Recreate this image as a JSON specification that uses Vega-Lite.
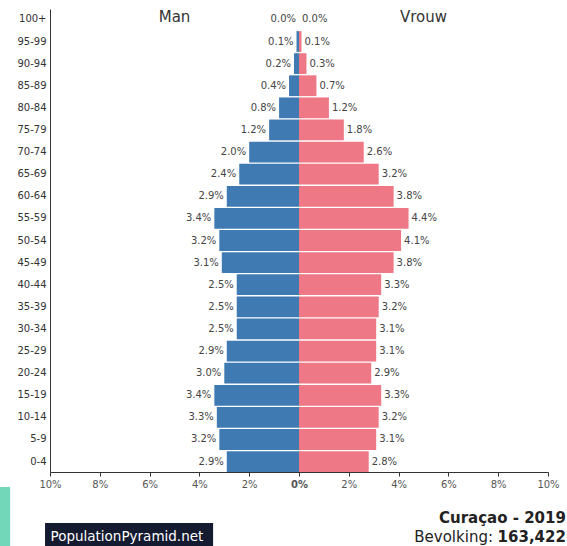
{
  "$schema": "https://vega.github.io/schema/vega-lite/v6.json",
  "width": 567,
  "height": 546,
  "autosize": {"type": "none"},
  "padding": 0,
  "background": "white",
  "config": {"font": "DejaVu Sans", "view": {"stroke": null}},
  "data": {
    "values": [
      {"age": "100+", "sex": "Man", "pct": 0.0}, {"age": "100+", "sex": "Vrouw", "pct": 0.0},
      {"age": "95-99", "sex": "Man", "pct": 0.1}, {"age": "95-99", "sex": "Vrouw", "pct": 0.1},
      {"age": "90-94", "sex": "Man", "pct": 0.2}, {"age": "90-94", "sex": "Vrouw", "pct": 0.3},
      {"age": "85-89", "sex": "Man", "pct": 0.4}, {"age": "85-89", "sex": "Vrouw", "pct": 0.7},
      {"age": "80-84", "sex": "Man", "pct": 0.8}, {"age": "80-84", "sex": "Vrouw", "pct": 1.2},
      {"age": "75-79", "sex": "Man", "pct": 1.2}, {"age": "75-79", "sex": "Vrouw", "pct": 1.8},
      {"age": "70-74", "sex": "Man", "pct": 2.0}, {"age": "70-74", "sex": "Vrouw", "pct": 2.6},
      {"age": "65-69", "sex": "Man", "pct": 2.4}, {"age": "65-69", "sex": "Vrouw", "pct": 3.2},
      {"age": "60-64", "sex": "Man", "pct": 2.9}, {"age": "60-64", "sex": "Vrouw", "pct": 3.8},
      {"age": "55-59", "sex": "Man", "pct": 3.4}, {"age": "55-59", "sex": "Vrouw", "pct": 4.4},
      {"age": "50-54", "sex": "Man", "pct": 3.2}, {"age": "50-54", "sex": "Vrouw", "pct": 4.1},
      {"age": "45-49", "sex": "Man", "pct": 3.1}, {"age": "45-49", "sex": "Vrouw", "pct": 3.8},
      {"age": "40-44", "sex": "Man", "pct": 2.5}, {"age": "40-44", "sex": "Vrouw", "pct": 3.3},
      {"age": "35-39", "sex": "Man", "pct": 2.5}, {"age": "35-39", "sex": "Vrouw", "pct": 3.2},
      {"age": "30-34", "sex": "Man", "pct": 2.5}, {"age": "30-34", "sex": "Vrouw", "pct": 3.1},
      {"age": "25-29", "sex": "Man", "pct": 2.9}, {"age": "25-29", "sex": "Vrouw", "pct": 3.1},
      {"age": "20-24", "sex": "Man", "pct": 3.0}, {"age": "20-24", "sex": "Vrouw", "pct": 2.9},
      {"age": "15-19", "sex": "Man", "pct": 3.4}, {"age": "15-19", "sex": "Vrouw", "pct": 3.3},
      {"age": "10-14", "sex": "Man", "pct": 3.3}, {"age": "10-14", "sex": "Vrouw", "pct": 3.2},
      {"age": "5-9", "sex": "Man", "pct": 3.2}, {"age": "5-9", "sex": "Vrouw", "pct": 3.1},
      {"age": "0-4", "sex": "Man", "pct": 2.9}, {"age": "0-4", "sex": "Vrouw", "pct": 2.8}
    ]
  },
  "layer": [
    {
      "encoding": {
        "y": {
          "field": "age",
          "type": "nominal",
          "sort": ["100+", "95-99", "90-94", "85-89", "80-84", "75-79", "70-74", "65-69", "60-64", "55-59", "50-54", "45-49", "40-44", "35-39", "30-34", "25-29", "20-24", "15-19", "10-14", "5-9", "0-4"],
          "scale": {
            "domain": ["100+", "95-99", "90-94", "85-89", "80-84", "75-79", "70-74", "65-69", "60-64", "55-59", "50-54", "45-49", "40-44", "35-39", "30-34", "25-29", "20-24", "15-19", "10-14", "5-9", "0-4"],
            "range": [9, 472],
            "paddingInner": 0.06,
            "paddingOuter": 0
          },
          "axis": {
            "title": null,
            "offset": -50,
            "ticks": false,
            "domainColor": "#333333",
            "labelFontSize": 10,
            "labelColor": "#333333",
            "labelPadding": 4
          }
        }
      },
      "layer": [
        {
          "transform": [
            {"calculate": "datum.sex === 'Man' ? -datum.pct : datum.pct", "as": "signed"}
          ],
          "mark": {"type": "bar"},
          "encoding": {
            "x": {
              "field": "signed",
              "type": "quantitative",
              "scale": {"domain": [-10, 10], "range": [50, 548], "nice": false},
              "axis": {
                "title": null,
                "offset": -74,
                "values": [-10, -8, -6, -4, -2, 0, 2, 4, 6, 8, 10],
                "labelExpr": "abs(datum.value) + '%'",
                "labelFlush": false,
                "labelFontSize": 10,
                "labelColor": "#555555",
                "labelFontWeight": {"condition": {"test": "datum.value === 0", "value": "bold"}, "value": "normal"},
                "domainColor": "#333333",
                "tickColor": "#333333",
                "tickSize": 4,
                "labelPadding": 3,
                "grid": false
              }
            },
            "color": {
              "field": "sex",
              "type": "nominal",
              "scale": {"domain": ["Man", "Vrouw"], "range": ["#3f7ab3", "#ee7886"]},
              "legend": null
            }
          }
        },
        {
          "transform": [
            {"filter": "datum.sex === 'Man'"},
            {"calculate": "-datum.pct", "as": "signed"},
            {"calculate": "format(datum.pct, '.1f') + '%'", "as": "label"}
          ],
          "mark": {"type": "text", "align": "right", "dx": -3, "fontSize": 10, "fill": "#444444"},
          "encoding": {
            "x": {"field": "signed", "type": "quantitative"},
            "text": {"field": "label", "type": "nominal"}
          }
        },
        {
          "transform": [
            {"filter": "datum.sex === 'Vrouw'"},
            {"calculate": "format(datum.pct, '.1f') + '%'", "as": "label"}
          ],
          "mark": {"type": "text", "align": "left", "dx": 3, "fontSize": 10, "fill": "#444444"},
          "encoding": {
            "x": {"field": "pct", "type": "quantitative"},
            "text": {"field": "label", "type": "nominal"}
          }
        },
        {
          "data": {"values": [{}]},
          "mark": {"type": "text", "fontSize": 15, "fill": "#333333", "dy": -2},
          "encoding": {
            "x": {"datum": -5, "type": "quantitative"},
            "y": {"datum": "100+", "type": "nominal"},
            "text": {"value": "Man"}
          }
        },
        {
          "data": {"values": [{}]},
          "mark": {"type": "text", "fontSize": 15, "fill": "#333333", "dy": -2},
          "encoding": {
            "x": {"datum": 5, "type": "quantitative"},
            "y": {"datum": "100+", "type": "nominal"},
            "text": {"value": "Vrouw"}
          }
        }
      ]
    },
    {
      "data": {"values": [{}]},
      "encoding": {
        "y": {"datum": 0.5, "type": "quantitative", "scale": {"domain": [0, 1], "range": [472, 546], "nice": false, "zero": false}, "axis": null}
      },
      "layer": [
        {
          "mark": {"type": "rect", "fill": "#72d6b8"},
          "encoding": {
            "x": {"datum": -12.01, "type": "quantitative"},
            "x2": {"datum": -11.6},
            "y": {"datum": 0.2027, "type": "quantitative"},
            "y2": {"datum": 1}
          }
        },
        {
          "mark": {"type": "rect", "fill": "#141a30"},
          "encoding": {
            "x": {"datum": -10.2, "type": "quantitative"},
            "x2": {"datum": -3.45},
            "y": {"datum": 0.689, "type": "quantitative"},
            "y2": {"datum": 1}
          }
        },
        {
          "mark": {"type": "text", "align": "left", "baseline": "alphabetic", "fontSize": 13.5, "fill": "#ffffff"},
          "encoding": {
            "x": {"datum": -9.98, "type": "quantitative"},
            "y": {"datum": 0.932, "type": "quantitative"},
            "text": {"value": "PopulationPyramid.net"}
          }
        },
        {
          "mark": {"type": "text", "align": "right", "baseline": "alphabetic", "fontSize": 15, "fontWeight": "bold", "fill": "#222222"},
          "encoding": {
            "x": {"datum": 10.72, "type": "quantitative"},
            "y": {"datum": 0.689, "type": "quantitative"},
            "text": {"value": "Curaçao - 2019"}
          }
        },
        {
          "mark": {"type": "text", "align": "right", "baseline": "alphabetic", "fontSize": 15, "fontWeight": "bold", "fill": "#222222"},
          "encoding": {
            "x": {"datum": 10.72, "type": "quantitative"},
            "y": {"datum": 0.946, "type": "quantitative"},
            "text": {"value": "163,422"}
          }
        },
        {
          "mark": {"type": "text", "align": "right", "baseline": "alphabetic", "fontSize": 15, "fill": "#222222"},
          "encoding": {
            "x": {"datum": 7.79, "type": "quantitative"},
            "y": {"datum": 0.946, "type": "quantitative"},
            "text": {"value": "Bevolking:"}
          }
        }
      ]
    }
  ],
  "resolve": {"scale": {"y": "independent"}, "axis": {"y": "independent"}}
}
